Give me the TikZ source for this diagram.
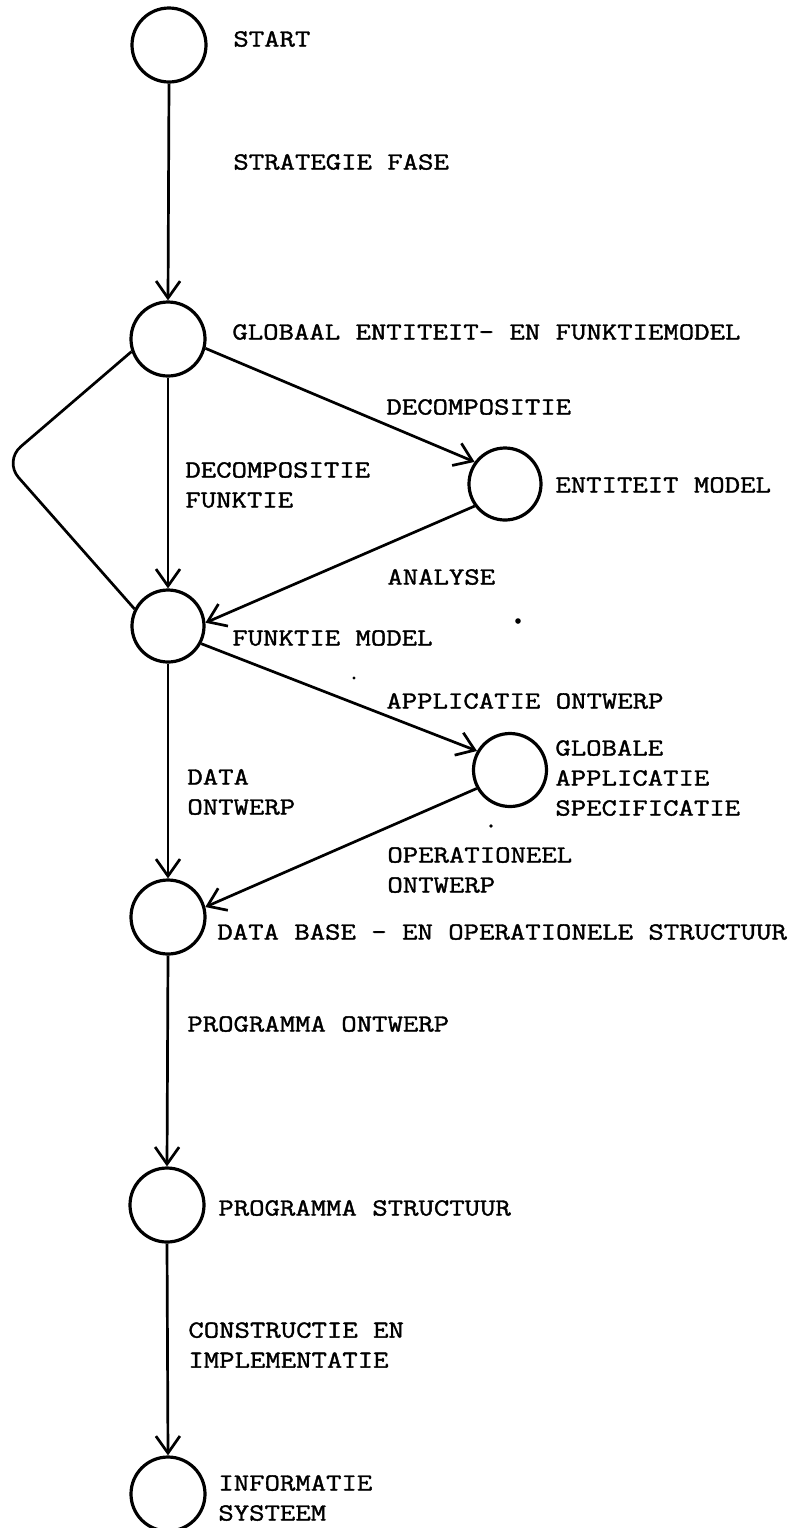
\documentclass[tikz,border=0pt]{standalone}
\usepackage{fontspec}
\usetikzlibrary{arrows.meta}
\newfontfamily\tw{Latin Modern Mono}[FakeStretch=1.215,FakeBold=1.5]
\begin{document}
\begin{tikzpicture}[x=0.5pt,y=-0.5pt,
  state/.style={circle,draw,line width=1.6pt,minimum size=37pt,inner sep=0pt},
  lbl/.style={anchor=west,inner sep=0pt,align=left,
    font=\tw\fontsize{12.3pt}{15pt}\selectfont},
  flow/.style={line width=1.35pt,-{Straight Barb[length=8.5pt,width=12pt,line width=1.35pt]}},
  plain/.style={line width=1.35pt},
  speck/.style={fill=black,draw=none}]
\useasboundingbox (0,0) rectangle (796,1528);

% states of the development cycle
\node[state] (c1) at (169,45)   {};
\node[state] (c2) at (168,339)  {};
\node[state,minimum size=36pt] (c3) at (505,484)  {};
\node[state,minimum size=36pt] (c4) at (168,626)  {};
\node[state,minimum size=36.5pt] (c5) at (510,770)  {};
\node[state] (c6) at (168,917)  {};
\node[state] (c7) at (167,1205) {};
\node[state] (c8) at (168,1494) {};

% state labels
\node[lbl] (t1) at (233,39)   {START};
\node[lbl] (t2) at (232,332)  {GLOBAAL ENTITEIT- EN FUNKTIEMODEL};
\node[lbl] (t3) at (555,485)  {ENTITEIT MODEL};
\node[lbl] (t4) at (232,638)  {FUNKTIE MODEL};
\node[lbl] (t5) at (555,778)  {GLOBALE\\APPLICATIE\\SPECIFICATIE};
\node[lbl] (t6) at (217,932)  {DATA BASE - EN OPERATIONELE STRUCTUUR};
\node[lbl] (t7) at (218,1208) {PROGRAMMA STRUCTUUR};
\node[lbl] (t8) at (218,1498) {INFORMATIE\\SYSTEEM};

% transition labels
\node[lbl] (a1) at (233,162)  {STRATEGIE FASE};
\node[lbl] (a2) at (386,407)  {DECOMPOSITIE};
\node[lbl] (a3) at (185,485)  {DECOMPOSITIE\\FUNKTIE};
\node[lbl] (a4) at (387,577)  {ANALYSE};
\node[lbl] (a5) at (386,701)  {APPLICATIE ONTWERP};
\node[lbl] (a6) at (187,792)  {DATA\\ONTWERP};
\node[lbl] (a7) at (387,870)  {OPERATIONEEL\\ONTWERP};
\node[lbl] (a8) at (187,1024) {PROGRAMMA ONTWERP};
\node[lbl] (a9) at (188,1345) {CONSTRUCTIE EN\\IMPLEMENTATIE};

% transitions
\draw[flow] (c1.south) -- (c2.north);
\draw[flow] (c2.south) -- (c4.north);
\draw[flow] (c2.-14)   -- (c3.144);
\draw[flow] (c3.216)   -- (c4.5);
\draw[flow] (c4.-28)   -- (c5.150);
\draw[flow] (c5.209)   -- (c6.15);
\draw[flow] (c4.south) -- (c6.north);
\draw[flow] (c6.south) -- (c7.north);
\draw[flow] (c7.south) -- (c8.north);

% return loop on the left
\coordinate (bend) at (4,461);
\draw[plain,rounded corners=11pt] (c2.199) -- (bend) -- (c4.153);

% specks
\fill[speck] (518,621) circle (1.4pt);
\fill[speck] (491,826) circle (0.9pt);
\fill[speck] (354,678) circle (0.8pt);
\end{tikzpicture}
\end{document}
